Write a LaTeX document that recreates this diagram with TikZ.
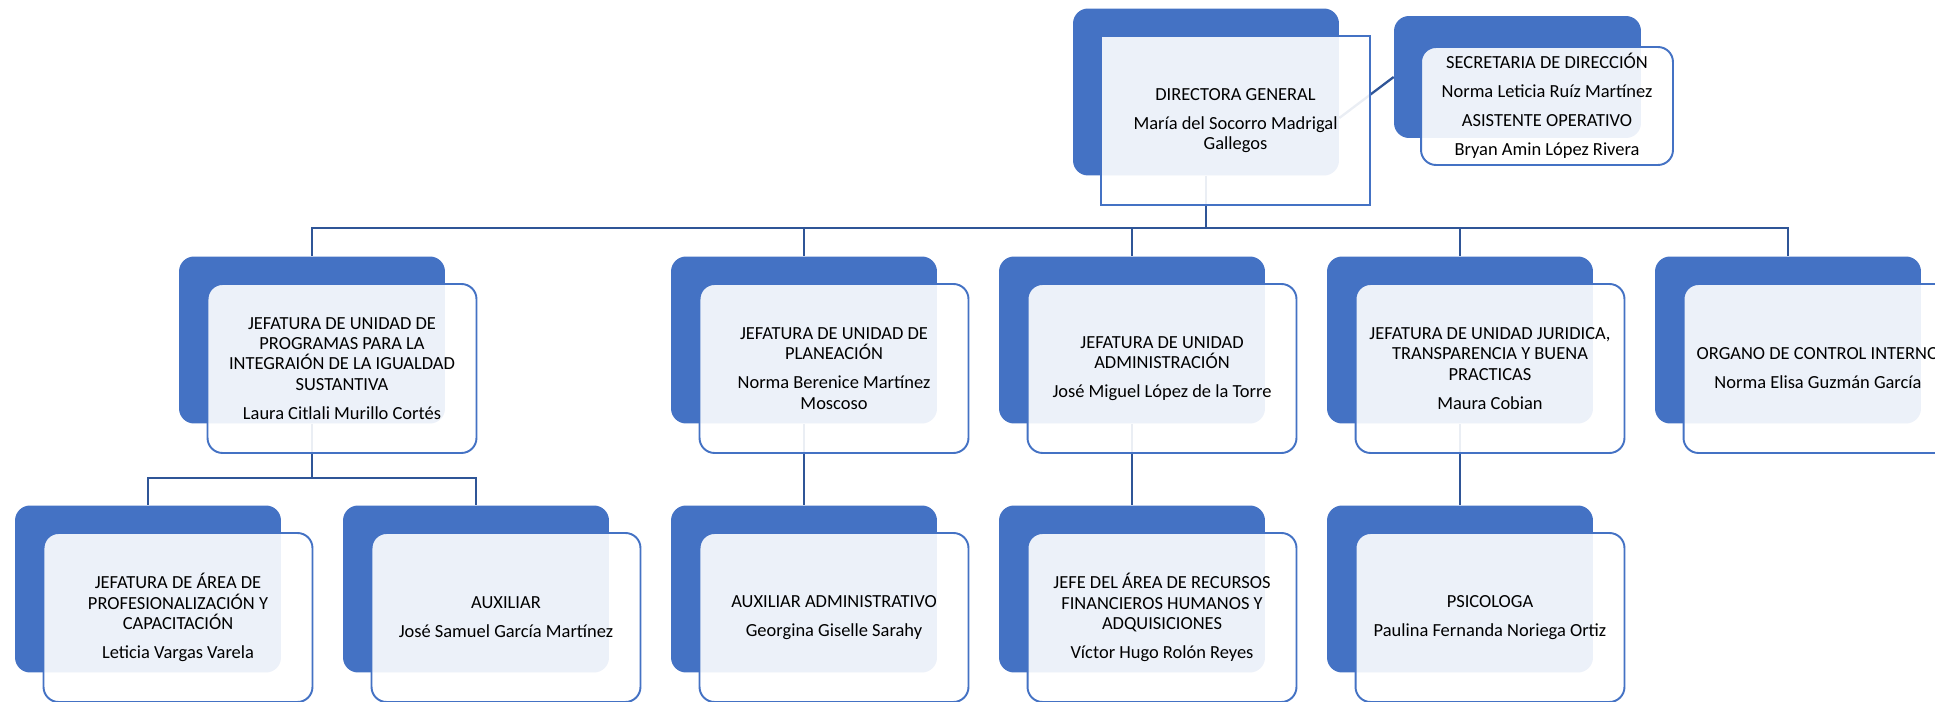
\documentclass[tikz,border=0pt]{standalone}
\usepackage{fontspec}
\setmainfont{Carlito}
\usepackage{tikz}
\usetikzlibrary{calc,positioning}
\definecolor{boxblue}{HTML}{4472C4}
\definecolor{lineblue}{HTML}{2F5597}
\newcommand\orgfont{\fontsize{10.5}{11.5}\selectfont}
\tikzset{
  backbox/.style={fill=boxblue, rounded corners=0.3cm, minimum width=5.32cm, minimum height=3.34cm},
  frontbox/.style={draw=boxblue, line width=1.1pt, fill=white, fill opacity=0.9, text opacity=1,
    rounded corners=0.3cm, minimum width=5.38cm, minimum height=3.38cm, align=center, font=\orgfont},
  conn/.style={draw=lineblue, line width=1.3pt},
}

\begin{document}
\begin{tikzpicture}[x=0.02cm,y=-0.02cm]
\clip (0,0) rectangle (1935,702);
\node[backbox] (dirB) at (1206,92) {};
\node[backbox, minimum width=4.94cm, minimum height=2.44cm] (secB) at (1517.5,77) {};
\node[backbox] (lauraB) at (312,340) {};
\node[backbox] (planB) at (804,340) {};
\node[backbox] (adminB) at (1132,340) {};
\node[backbox] (juriB) at (1460,340) {};
\node[backbox] (ocB) at (1788,340) {};
\node[backbox] (letB) at (148,589) {};
\node[backbox] (auxB) at (476,589) {};
\node[backbox] (auxadmB) at (804,589) {};
\node[backbox] (recB) at (1132,589) {};
\node[backbox] (psiB) at (1460,589) {};

\coordinate (bus1) at (0,228);
\coordinate (bus2) at (0,478);
\foreach \c in {lauraB,planB,adminB,juriB,ocB}
  \draw[conn] (dirB.south) -- (dirB.south |- bus1) -| (\c.north);
\foreach \c in {letB,auxB}
  \draw[conn] (lauraB.south) -- (lauraB.south |- bus2) -| (\c.north);
\draw[conn] (planB.south) -- (auxadmB.north);
\draw[conn] (adminB.south) -- (recB.north);
\draw[conn] (juriB.south) -- (psiB.north);
\draw[conn] ([yshift=-0.52cm]dirB.east) -- (secB.west);

\node[frontbox, rounded corners=0pt] (dir) at ([shift={(29.5,28.5)}]dirB.center)
  {DIRECTORA GENERAL\\[5pt] María del Socorro Madrigal\\ Gallegos};
\node[frontbox, minimum width=5.04cm, minimum height=2.36cm] (sec) at ([shift={(29.5,29)}]secB.center)
  {SECRETARIA DE DIRECCIÓN\\[5pt] Norma Leticia Ruíz Martínez\\[5pt] ASISTENTE OPERATIVO\\[5pt] Bryan Amin López Rivera};
\node[frontbox] (laura) at ([shift={(30,28.5)}]lauraB.center)
  {JEFATURA DE UNIDAD DE\\ PROGRAMAS PARA LA\\ INTEGRAIÓN DE LA IGUALDAD\\ SUSTANTIVA\\[5pt] Laura Citlali Murillo Cortés};
\node[frontbox] (plan) at ([shift={(30,28.5)}]planB.center)
  {JEFATURA DE UNIDAD DE\\ PLANEACIÓN\\[5pt] Norma Berenice Martínez\\ Moscoso};
\node[frontbox] (admin) at ([shift={(30,28.5)}]adminB.center)
  {JEFATURA DE UNIDAD\\ ADMINISTRACIÓN\\[5pt] José Miguel López de la Torre};
\node[frontbox] (juri) at ([shift={(30,28.5)}]juriB.center)
  {JEFATURA DE UNIDAD JURIDICA,\\ TRANSPARENCIA Y BUENA\\ PRACTICAS\\[5pt] Maura Cobian};
\node[frontbox] (oc) at ([shift={(30,28.5)}]ocB.center)
  {\makebox[0pt][c]{ORGANO DE CONTROL INTERNO}\\[5pt] Norma Elisa Guzmán García};
\node[frontbox] (let) at ([shift={(30,28.5)}]letB.center)
  {JEFATURA DE ÁREA DE\\ PROFESIONALIZACIÓN Y\\ CAPACITACIÓN\\[5pt] Leticia Vargas Varela};
\node[frontbox] (aux) at ([shift={(30,28.5)}]auxB.center)
  {AUXILIAR\\[5pt] José Samuel García Martínez};
\node[frontbox] (auxadm) at ([shift={(30,28.5)}]auxadmB.center)
  {AUXILIAR ADMINISTRATIVO\\[5pt] Georgina Giselle Sarahy};
\node[frontbox] (rec) at ([shift={(30,28.5)}]recB.center)
  {JEFE DEL ÁREA DE RECURSOS\\ FINANCIEROS HUMANOS Y\\ ADQUISICIONES\\[5pt] Víctor Hugo Rolón Reyes};
\node[frontbox] (psi) at ([shift={(30,28.5)}]psiB.center)
  {PSICOLOGA\\[5pt] Paulina Fernanda Noriega Ortiz};
\end{tikzpicture}
\end{document}
